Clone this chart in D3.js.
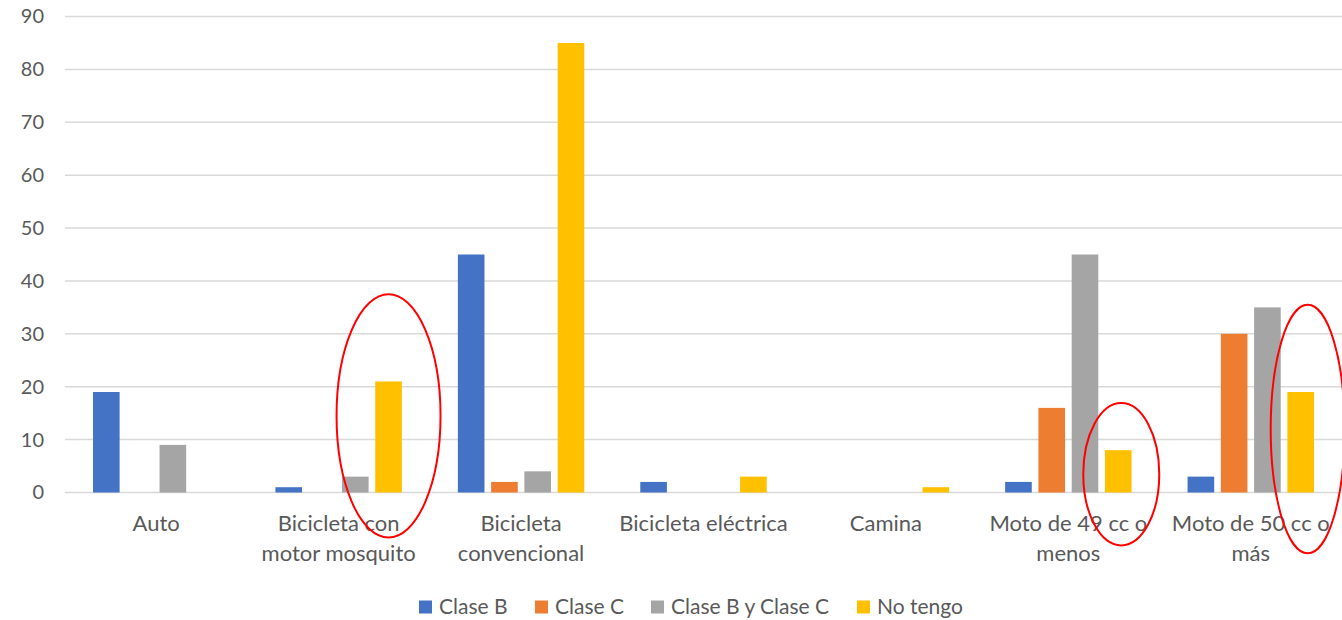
<!DOCTYPE html>
<html><head><meta charset="utf-8">
<script src="https://cdn.jsdelivr.net/npm/d3@7"></script>
<style>
body{margin:0;background:#fff;}
svg{display:block;font-family:Lato,"Open Sans",sans-serif;}
</style></head>
<body><svg id="c" width="1342" height="620"></svg>
<script>
const categories = [["Auto"],["Bicicleta con","motor mosquito"],["Bicicleta","convencional"],["Bicicleta eléctrica"],["Camina"],["Moto de 49 cc o","menos"],["Moto de 50 cc o","más"]];
const seriesNames = ["Clase B","Clase C","Clase B y Clase C","No tengo"];
const claseB   = [19, 1, 45, 2, 0, 2, 3];
const claseC   = [0, 0, 2, 0, 0, 16, 30];
const claseBC  = [9, 3, 4, 0, 0, 45, 35];
const noTengo  = [0, 21, 85, 3, 1, 8, 19];
const yTicks = [0,10,20,30,40,50,60,70,80,90];
const colors = ["#4472C4","#ED7D31","#A5A5A5","#FFC000"];
// annotation: [category index, series index, yLow, yHigh]
const highlights = [[1,3,-8.5,37.5],[5,3,-10,16.9],[6,3,-11.5,35.5]];

const allSeries = [claseB, claseC, claseBC, noTengo];
const svg = d3.select("#c");
const catIdx = categories.map((d,i)=>i);
const x0 = d3.scaleBand().domain(catIdx).range([65,1342]).padding(0);
const x1 = d3.scaleBand().domain(d3.range(4)).range([28, x0.bandwidth()-28]).paddingInner(0.2).paddingOuter(0);
const y = d3.scaleLinear().domain([0,90]).range([492.5,16.5]);

// gridlines
svg.append("g").selectAll("line").data(yTicks).join("line")
  .attr("x1",65).attr("x2",1342).attr("y1",d=>y(d)).attr("y2",d=>y(d))
  .attr("stroke","#d9d9d9").attr("stroke-width",1.5);

// y labels
const yAxis = d3.axisLeft(y).tickValues(yTicks).tickSize(0).tickPadding(0);
const ya = svg.append("g").attr("transform","translate(44,0)").call(yAxis);
ya.select(".domain").remove();
ya.selectAll("text").attr("fill","#595959").style("font-size","20px").style("font-family","Lato,'Open Sans',sans-serif");

// bars
const g = svg.append("g");
catIdx.forEach(ci=>{
  allSeries.forEach((s,si)=>{
    const v = s[ci];
    if (v<=0) return;
    g.append("rect")
      .attr("x", x0(ci)+x1(si)).attr("width", x1.bandwidth())
      .attr("y", y(v)).attr("height", y(0)-y(v))
      .attr("fill", colors[si]);
  });
});

// category labels
const cl = svg.append("g");
categories.forEach((lines,ci)=>{
  const t = cl.append("text").attr("text-anchor","middle").attr("fill","#595959").style("font-size","22px");
  lines.forEach((ln,li)=>{
    t.append("tspan").attr("x", x0(ci)+x0.bandwidth()/2).attr("y", 531+li*30).text(ln);
  });
});

// annotations
const ann = {1:{rx:52,dx:0},5:{rx:38,dx:3},6:{rx:37,dx:7}};
highlights.forEach(([ci,si,lo,hi])=>{
  const cx = x0(ci)+x1(si)+x1.bandwidth()/2 + ann[ci].dx;
  const cy = (y(lo)+y(hi))/2;
  svg.append("ellipse").attr("cx",cx).attr("cy",cy).attr("rx",ann[ci].rx).attr("ry",(y(lo)-y(hi))/2)
    .attr("fill","none").attr("stroke","#FF0000").attr("stroke-width",2);
});

// legend
const legX = [419,535,651,857];
const lg = svg.append("g");
seriesNames.forEach((n,i)=>{
  lg.append("rect").attr("x",legX[i]).attr("y",600.5).attr("width",13).attr("height",13).attr("fill",colors[i]);
  lg.append("text").attr("x",legX[i]+20).attr("y",614).attr("fill","#595959").style("font-size","21px").text(n);
});
</script></body></html>
